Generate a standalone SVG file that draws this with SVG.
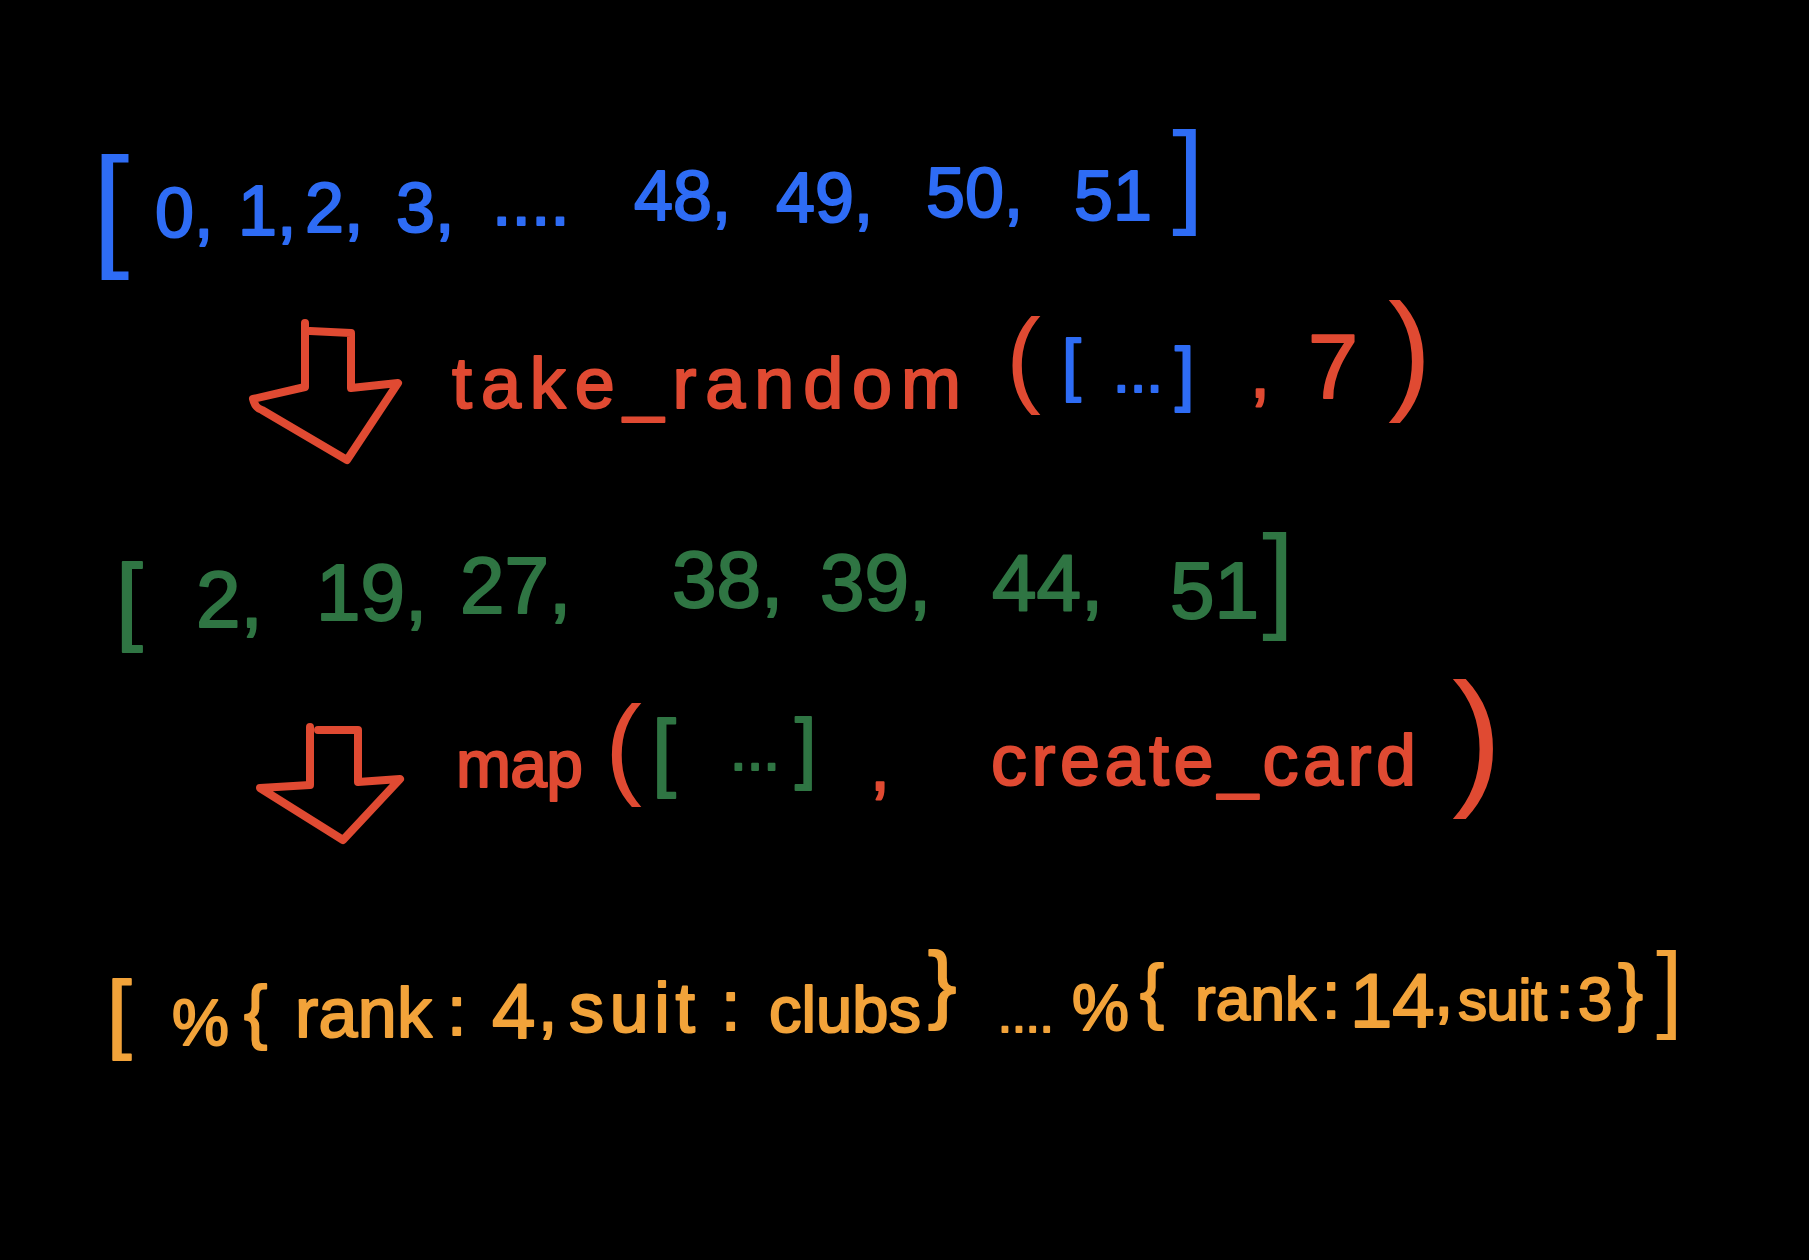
<svg xmlns="http://www.w3.org/2000/svg" width="1809" height="1260" viewBox="0 0 1809 1260" font-size="72">
<style>
text{font-family:"Liberation Sans","Noto Sans",sans-serif;stroke-width:2;stroke-linejoin:round}
.b{fill:#2E6CF5;stroke:#2E6CF5}
.r{fill:#E04A32;stroke:#E04A32}
.g{fill:#2F7543;stroke:#2F7543}
.o{fill:#F2A33A;stroke:#F2A33A}
.thin{stroke-width:0}
.arrow{fill:none;stroke:#E04A32;stroke-width:8;stroke-linejoin:round;stroke-linecap:round}
</style>
<rect width="1809" height="1260" fill="#000"/>
<g id="deck">
<text class="b thin" x="92" y="252" font-size="135">[</text>
<text class="b" x="155" y="237" font-size="70">0,</text>
<text class="b" x="238" y="235" font-size="70">1,</text>
<text class="b" x="305" y="232" font-size="70">2,</text>
<text class="b" x="396" y="232" font-size="70">3,</text>
<text class="b" x="492" y="225" font-size="70">....</text>
<text class="b" x="634" y="220" font-size="70">48,</text>
<text class="b" x="776" y="222" font-size="70">49,</text>
<text class="b" x="926" y="217" font-size="70">50,</text>
<text class="b" x="1074" y="220" font-size="70">51</text>
<text class="b thin" x="1172" y="212" font-size="115">]</text>
</g>
<g id="take_random">
<text class="r" x="452" y="408" font-size="72" textLength="509" lengthAdjust="spacing">take_random</text>
<text class="r thin" x="1006" y="393" font-size="105">(</text>
<text class="b" x="1062" y="388" font-size="68">[</text>
<text class="b" x="1113" y="392" font-size="60">...</text>
<text class="b" x="1175" y="397" font-size="70">]</text>
<text class="r" x="1250" y="397" font-size="72">,</text>
<text class="r" x="1308" y="398" font-size="90">7</text>
<text class="r thin" x="1388" y="396" font-size="131">)</text>
</g>
<g id="hand">
<text class="g" x="116" y="632" font-size="96">[</text>
<text class="g" x="196" y="627" font-size="80">2,</text>
<text class="g" x="316" y="620" font-size="80">19,</text>
<text class="g" x="460" y="613" font-size="80">27,</text>
<text class="g" x="672" y="607" font-size="80">38,</text>
<text class="g" x="820" y="610" font-size="80">39,</text>
<text class="g" x="992" y="610" font-size="80">44,</text>
<text class="g" x="1170" y="618" font-size="80">51</text>
<text class="g thin" x="1262" y="617" font-size="117">]</text>
</g>
<g id="map">
<text class="r" x="456" y="787" font-size="66" textLength="127" lengthAdjust="spacing">map</text>
<text class="r thin" x="605" y="784" font-size="111">(</text>
<text class="g" x="652" y="780" font-size="86">[</text>
<text class="g" x="730" y="770" font-size="60">...</text>
<text class="g" x="795" y="774" font-size="77">]</text>
<text class="r" x="870" y="790" font-size="72">,</text>
<text class="r" x="991" y="785" font-size="72" textLength="425" lengthAdjust="spacing">create_card</text>
<text class="r thin" x="1452" y="788" font-size="151">)</text>
</g>
<g id="cards">
<text class="o" x="107" y="1042" font-size="88">[</text>
<text class="o" x="172" y="1045" font-size="64">%</text>
<text class="o" x="244" y="1035" font-size="70">{</text>
<text class="o" x="295" y="1037" font-size="70" textLength="137" lengthAdjust="spacing">rank</text>
<text class="o" x="447" y="1035" font-size="70">:</text>
<text class="o" x="492" y="1038" font-size="78">4</text>
<text class="o" x="538" y="1030" font-size="70">,</text>
<text class="o" x="569" y="1032" font-size="70" textLength="126" lengthAdjust="spacing">suit</text>
<text class="o" x="721" y="1030" font-size="70">:</text>
<text class="o" x="769" y="1032" font-size="65" textLength="152" lengthAdjust="spacing">clubs</text>
<text class="o" x="928" y="1012" font-size="85">}</text>
<text class="o" x="998" y="1032" font-size="50">....</text>
<text class="o" x="1072" y="1030" font-size="64">%</text>
<text class="o" x="1140" y="1015" font-size="72">{</text>
<text class="o" x="1195" y="1020" font-size="62" textLength="121" lengthAdjust="spacing">rank</text>
<text class="o" x="1322" y="1018" font-size="66">:</text>
<text class="o" x="1350" y="1027" font-size="76">14</text>
<text class="o" x="1434" y="1015" font-size="70">,</text>
<text class="o" x="1458" y="1020" font-size="58" textLength="89" lengthAdjust="spacing">suit</text>
<text class="o" x="1556" y="1018" font-size="62">:</text>
<text class="o" x="1578" y="1020" font-size="62">3</text>
<text class="o" x="1618" y="1017" font-size="75">}</text>
<text class="o thin" x="1656" y="1020" font-size="96">]</text>
</g>
<g id="connectors">
<path class="arrow" d="M305,323 L305,387 L253,399 Q255,408 262,410 L347,460 L398,383 L351,388 L351,333 L310,331"/>
<path class="arrow" d="M310,727 L310,785 L260,788 L343,840 L400,779 L358,782 L358,730 L318,730"/>
</g>
</svg>
